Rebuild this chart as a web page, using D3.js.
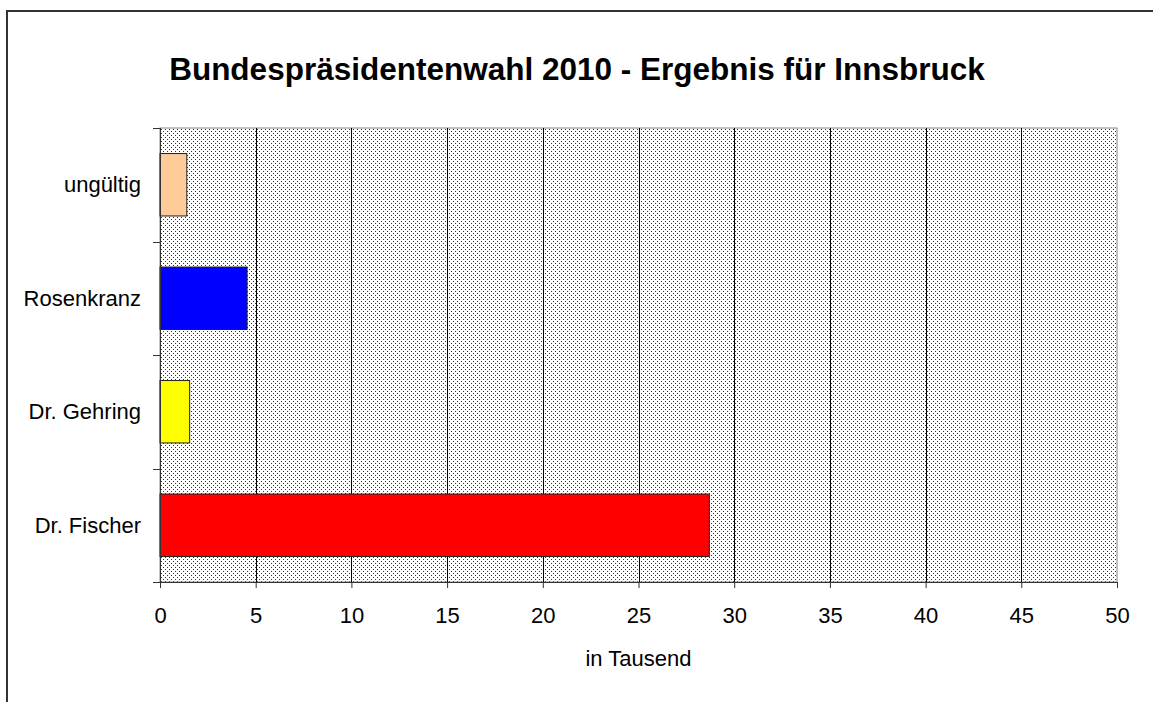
<!DOCTYPE html>
<html>
<head>
<meta charset="utf-8">
<script src="https://cdn.jsdelivr.net/npm/d3@7"></script>
<style>
  body { margin: 0; background: #fff; }
  svg { font-family: "Liberation Sans", Arial, sans-serif; }
</style>
</head>
<body>
<div id="chart"></div>
<script>
// data
var categories = ['Dr. Fischer', 'Dr. Gehring', 'Rosenkranz', 'ungültig'];
var votes = [28.7, 1.55, 4.55, 1.4];   // in Tausend
var barColors = ['#FF0000', '#FFFF00', '#0000FF', '#FFCC99'];
var xTicks = [0, 5, 10, 15, 20, 25, 30, 35, 40, 45, 50];

var width = 1153, height = 702;
var margin = {left: 160, right: 36, top: 128, bottom: 120};
var labelSize = '22px';

var svg = d3.select('#chart').append('svg')
    .attr('width', width)
    .attr('height', height);

// dotted fill of the plot area
var defs = svg.append('defs');
var pattern = defs.append('pattern')
    .attr('id', 'dots')
    .attr('patternUnits', 'userSpaceOnUse')
    .attr('width', 4)
    .attr('height', 4);
pattern.append('rect').attr('width', 4).attr('height', 4).attr('fill', '#fff');
pattern.append('rect').attr('x', 1).attr('y', 1).attr('width', 1).attr('height', 1).attr('fill', '#333');
pattern.append('rect').attr('x', 3).attr('y', 3).attr('width', 1).attr('height', 1).attr('fill', '#333');

// outer frame
svg.append('rect')
    .attr('x', 7).attr('y', 11)
    .attr('width', width).attr('height', height)
    .attr('fill', 'none')
    .attr('stroke', '#333')
    .attr('stroke-width', 2);

var x = d3.scaleLinear()
    .domain([0, 50])
    .range([margin.left, width - margin.right]);

var y = d3.scaleBand()
    .domain(categories)
    .range([height - margin.bottom, margin.top])
    .paddingInner(0.45)
    .paddingOuter(0.225);

// plot area
svg.append('rect')
    .attr('x', x(0)).attr('y', margin.top)
    .attr('width', x(50) - x(0))
    .attr('height', height - margin.bottom - margin.top)
    .attr('fill', 'url(#dots)')
    .attr('stroke', '#888')
    .attr('stroke-width', 1);

// gridlines
svg.append('g').selectAll('line')
    .data(xTicks.slice(1, -1))
    .enter().append('line')
    .attr('x1', function(d) { return Math.round(x(d)) + 0.5; })
    .attr('x2', function(d) { return Math.round(x(d)) + 0.5; })
    .attr('y1', margin.top)
    .attr('y2', height - margin.bottom)
    .attr('stroke', '#000')
    .attr('stroke-width', 1);

// bars
svg.append('g').selectAll('rect')
    .data(votes)
    .enter().append('rect')
    .attr('x', x(0))
    .attr('y', function(d, i) { return y(categories[i]); })
    .attr('width', function(d) { return x(d) - x(0); })
    .attr('height', y.bandwidth())
    .attr('fill', function(d, i) { return barColors[i]; })
    .attr('stroke', '#222')
    .attr('stroke-width', 1);

// x axis
var xAxis = svg.append('g')
    .attr('transform', 'translate(0,' + (height - margin.bottom) + ')')
    .call(d3.axisBottom(x).tickValues(xTicks).tickSize(6).tickPadding(19).tickSizeOuter(0));
xAxis.select('.domain').attr('stroke', '#333').attr('d', 'M' + (x(0) - 7) + ',0.5H' + x(50));
xAxis.selectAll('.tick line').attr('stroke', '#333');
xAxis.selectAll('text')
    .attr('fill', '#000')
    .style('font-size', labelSize)
    .style('font-family', '"Liberation Sans", Arial, sans-serif');

// y axis: ticks at category boundaries
var yBounds = d3.range(categories.length + 1).map(function(i) {
    return margin.top + i * (height - margin.bottom - margin.top) / categories.length;
});
svg.append('line')
    .attr('x1', x(0) + 0.5).attr('x2', x(0) + 0.5)
    .attr('y1', margin.top).attr('y2', height - margin.bottom + 6)
    .attr('stroke', '#333');
svg.append('g').selectAll('line')
    .data(yBounds)
    .enter().append('line')
    .attr('x1', x(0) - 7).attr('x2', x(0))
    .attr('y1', function(d) { return Math.round(d) + 0.5; })
    .attr('y2', function(d) { return Math.round(d) + 0.5; })
    .attr('stroke', '#333');

svg.append('g').selectAll('text')
    .data(categories)
    .enter().append('text')
    .attr('x', 141)
    .attr('y', function(d) { return y(d) + y.bandwidth() / 2; })
    .attr('dy', '0.35em')
    .attr('text-anchor', 'end')
    .style('font-size', labelSize)
    .text(function(d) { return d; });

// titles
svg.append('text')
    .attr('x', 577)
    .attr('y', 80)
    .attr('text-anchor', 'middle')
    .style('font-size', '31.5px')
    .style('font-weight', 'bold')
    .text('Bundespräsidentenwahl 2010 - Ergebnis für Innsbruck');

svg.append('text')
    .attr('x', (x(0) + x(50)) / 2)
    .attr('y', 666)
    .attr('text-anchor', 'middle')
    .style('font-size', labelSize)
    .text('in Tausend');
</script>
</body>
</html>
